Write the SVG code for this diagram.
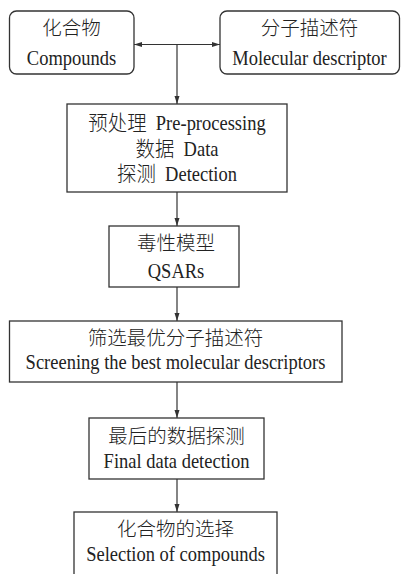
<svg xmlns="http://www.w3.org/2000/svg" width="401" height="574" viewBox="0 0 401 574">
  <style>
    .box { fill: #fff; stroke: #333; stroke-width: 1.3; }
    .wire { fill: none; stroke: #333; stroke-width: 1.2; }
    .zh { font-family: "Noto Sans CJK SC", "Noto Sans CJK TC", sans-serif; font-size: 19.5px; font-weight: 300; fill: #222; text-anchor: middle; }
    .en { font-family: "Liberation Serif", "Times New Roman", serif; font-size: 20px; fill: #222; text-anchor: middle; }
    .en tspan.cn { font-family: "Noto Sans CJK SC", sans-serif; font-size: 21px; font-weight: 300; }
  </style>
  <defs>
    <marker id="arrow" viewBox="0 0 8 6" refX="8" refY="3" markerWidth="8" markerHeight="6" markerUnits="userSpaceOnUse" orient="auto-start-reverse">
      <path d="M0,0.5 L8,3 L0,5.5 z" fill="#333"/>
    </marker>
  </defs>

  <rect width="401" height="574" fill="#fff"/>

  <g id="connectors">
    <line class="wire" x1="134" y1="44.5" x2="220" y2="44.5" marker-start="url(#arrow)" marker-end="url(#arrow)"/>
    <line class="wire" x1="177" y1="44.5" x2="177" y2="104" marker-end="url(#arrow)"/>
    <line class="wire" x1="177" y1="192" x2="177" y2="226" marker-end="url(#arrow)"/>
    <line class="wire" x1="177" y1="287" x2="177" y2="321" marker-end="url(#arrow)"/>
    <line class="wire" x1="177" y1="382" x2="177" y2="418" marker-end="url(#arrow)"/>
    <line class="wire" x1="177" y1="479" x2="177" y2="512" marker-end="url(#arrow)"/>
  </g>

  <!-- English lines use a slightly condensed serif: taller glyphs, same width -->
  <g id="compounds">
    <rect class="box" x="9.5" y="11" width="124.5" height="63" rx="7"/>
    <text class="zh" x="71.5" y="35">化合物</text>
    <text class="en" transform="translate(71.5,65) scale(0.925,1)">Compounds</text>
  </g>

  <g id="descriptor">
    <rect class="box" x="220" y="11" width="179.5" height="63" rx="7"/>
    <text class="zh" x="309.5" y="35">分子描述符</text>
    <text class="en" transform="translate(309.5,65) scale(0.925,1)">Molecular descriptor</text>
  </g>

  <g id="preprocessing">
    <rect class="box" x="67" y="104" width="220" height="88"/>
    <text class="en" transform="translate(177,130) scale(0.925,1)"><tspan class="cn">预处理</tspan><tspan dx="10">Pre-processing</tspan></text>
    <text class="en" transform="translate(177,155.5) scale(0.925,1)"><tspan class="cn">数据</tspan><tspan dx="10">Data</tspan></text>
    <text class="en" transform="translate(177,180.5) scale(0.925,1)"><tspan class="cn">探测</tspan><tspan dx="10">Detection</tspan></text>
  </g>

  <g id="qsar">
    <rect class="box" x="109" y="226" width="130" height="61"/>
    <text class="zh" x="176" y="250">毒性模型</text>
    <text class="en" transform="translate(176,278) scale(0.925,1)">QSARs</text>
  </g>

  <g id="screening">
    <rect class="box" x="9.5" y="321" width="332.5" height="61"/>
    <text class="zh" x="175.5" y="345">筛选最优分子描述符</text>
    <text class="en" transform="translate(175.5,369) scale(0.925,1)">Screening the best molecular descriptors</text>
  </g>

  <g id="final-detection">
    <rect class="box" x="89" y="418" width="175" height="61"/>
    <text class="zh" x="176.5" y="443">最后的数据探测</text>
    <text class="en" transform="translate(176.5,468) scale(0.925,1)">Final data detection</text>
  </g>

  <g id="selection">
    <rect class="box" x="74" y="512" width="203" height="70"/>
    <text class="zh" x="175.5" y="536">化合物的选择</text>
    <text class="en" transform="translate(175.5,561) scale(0.925,1)">Selection of compounds</text>
  </g>
</svg>
